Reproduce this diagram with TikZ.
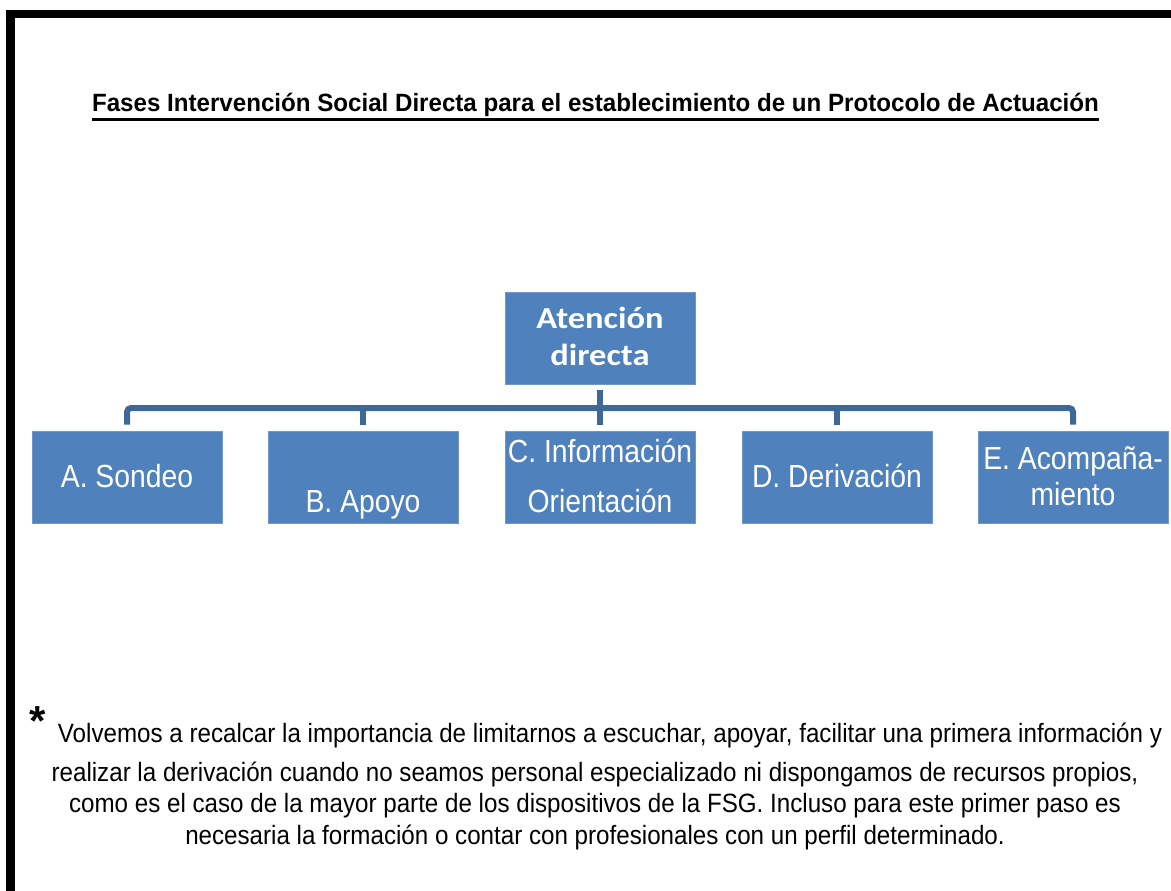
\documentclass[tikz,border=0pt]{standalone}
\usepackage{fontspec}
\setmainfont{Liberation Sans}
\newfontfamily\titlefont[FakeStretch=0.965]{Liberation Sans}
\newfontfamily\narrowfont[FakeStretch=0.912]{Liberation Sans}
\newfontfamily\boxfont[FakeStretch=0.885]{Liberation Sans}
\newfontfamily\calfont[FakeStretch=1.13]{Carlito}
\definecolor{boxblue}{RGB}{79,129,189}
\definecolor{boxedge}{RGB}{112,150,203}
\definecolor{connblue}{RGB}{62,104,152}
\tikzset{
  boxnode/.style={fill=boxblue, draw=boxedge, line width=0.8pt, minimum width=190pt, minimum height=92pt, inner sep=0pt},
  boxlabel/.style={text=white, anchor=base, inner sep=0pt, font=\boxfont\fontsize{32}{38}\selectfont},
  toplabel/.style={text=white, anchor=base, inner sep=0pt, font=\calfont\bfseries\fontsize{30.5}{36}\selectfont},
  conn/.style={draw=connblue, line width=6pt},
  notetext/.style={anchor=base, inner sep=0pt, font=\narrowfont\fontsize{26.5}{32}\selectfont},
}
\begin{document}
\begin{tikzpicture}[x=1pt,y=-1pt]
\useasboundingbox (0,0) rectangle (1171,891);
\fill[white] (0,0) rectangle (1171,891);
% frame
\fill[black] (6,10) rectangle (1171,18);
\fill[black] (6,10) rectangle (15,891);
% title
\node[anchor=base, inner sep=0pt, font=\titlefont\bfseries\fontsize{25}{30}\selectfont] (title) at (595.5,112)
  {Fases Intervención Social Directa para el establecimiento de un Protocolo de Actuación};
\draw[line width=2.8pt] ([yshift=-7.5pt]title.base west) -- ([yshift=-7.5pt]title.base east);
% boxes
\node[boxnode] (top) at (600,338) {};
\node[boxnode] (a) at (127,477) {};
\node[boxnode] (b) at (363,477) {};
\node[boxnode] (c) at (600,477) {};
\node[boxnode] (d) at (837,477) {};
\node[boxnode] (e) at (1073,477) {};
% labels
\node[toplabel] (topl1) at (600,328) {Atención};
\node[toplabel] (topl2) at (600,365) {directa};
\node[boxlabel] (al) at (127,487) {A. Sondeo};
\node[boxlabel] (bl) at (363,512) {B. Apoyo};
\node[boxlabel] (cl1) at (600,462) {C. Información};
\node[boxlabel] (cl2) at (600,512) {Orientación};
\node[boxlabel] (dl) at (837,487) {D. Derivación};
\node[boxlabel] (el1) at (1073,469) {E. Acompaña-};
\node[boxlabel] (el2) at (1073,505) {miento};
% connectors
\coordinate (bus) at (600,408);
\draw[conn] ([yshift=-6pt]top.south) -- ([yshift=6pt]c.north);
\draw[conn, rounded corners=4pt] ([yshift=6pt]a.north) |- (bus) -| ([yshift=6pt]e.north);
\draw[conn] (b.north |- bus) -- ([yshift=6pt]b.north);
\draw[conn] (d.north |- bus) -- ([yshift=6pt]d.north);
% note
\node[anchor=base, inner sep=0pt, font=\bfseries\fontsize{42}{48}\selectfont] (star) at (37.5,735) {*};
\node[notetext] (n1) at (610,742) {Volvemos a recalcar la importancia de limitarnos a escuchar, apoyar, facilitar una primera información y};
\node[notetext] (n2) at (595,781) {realizar la derivación cuando no seamos personal especializado ni dispongamos de recursos propios,};
\node[notetext] (n3) at (595,812) {como es el caso de la mayor parte de los dispositivos de la FSG. Incluso para este primer paso es};
\node[notetext] (n4) at (595,844) {necesaria la formación o contar con profesionales con un perfil determinado.};
\end{tikzpicture}
\end{document}
